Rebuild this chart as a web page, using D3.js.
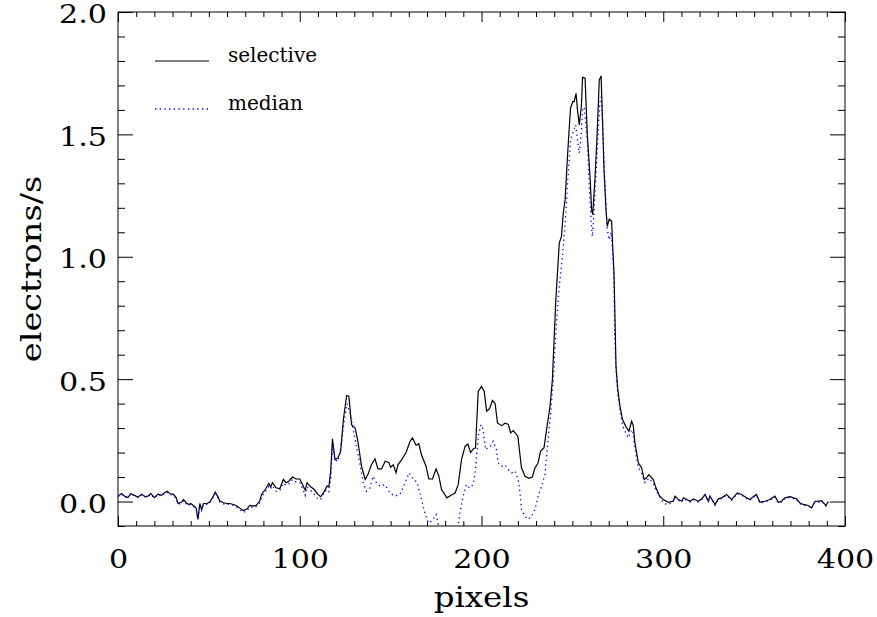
<!DOCTYPE html>
<html>
<head>
<meta charset="utf-8">
<script src="https://cdn.jsdelivr.net/npm/d3@7"></script>
<style>
  body { margin: 0; background: #fff; }
  svg { display: block; }
  text { font-family: "DejaVu Serif", serif; fill: #000; }
</style>
</head>
<body>
<div id="chart"></div>
<script>
// pixel positions along the slit
const selX = [0, 2, 4, 5.5, 7, 9, 11, 13, 15, 16.5, 18, 20, 22, 24, 25, 27, 29, 30.5, 32, 33, 35, 36, 37.5, 39, 40, 41.5, 43, 44, 45, 46, 47, 49, 50.5, 52, 53.5, 55, 56, 58, 60, 61.5, 63.5, 65, 67, 69, 71, 72.5, 74.5, 76, 78, 79, 81, 83, 84, 85, 87, 89, 91, 92.5, 94, 96, 98, 100, 101.5, 103, 104, 106, 108, 110, 111.5, 113, 115, 116, 117, 118, 119.4, 121, 122.5, 124, 125.8, 127, 128.5, 130.5, 132, 134, 136, 137.5, 139.5, 141.4, 143, 145, 147, 149, 150, 151.5, 153, 154, 156, 158.5, 160.7, 162, 164, 165.5, 167, 169.5, 171, 173, 175, 176.5, 178, 181, 183, 185.5, 187.2, 189, 191, 192.5, 194, 195.5, 196.7, 198.2, 200, 201.5, 202.8, 204.5, 206, 207.5, 208.8, 211, 213, 214.8, 216, 217.5, 220, 222, 224, 226, 228, 229.4, 231, 232.5, 234.4, 235.8, 237.7, 239, 240.9, 242.8, 244, 245, 246, 247.2, 248.3, 249, 250.2, 251, 252, 252.8, 253.8, 255, 255.6, 257, 258.2, 259.7, 260.6, 261.2, 262.5, 263.4, 264.3, 264.8, 265.8, 266.7, 267.4, 268.5, 269.2, 270.3, 271.6, 272.1, 272.9, 273.3, 274, 275, 276.2, 277.6, 279.4, 281.1, 282.6, 283.5, 284.4, 286.3, 288.1, 289.5, 290.5, 292.1, 293.5, 294.5, 296, 297.9, 300, 302.8, 305.5, 306.5, 308.3, 310.2, 311.1, 312.9, 314.8, 316.6, 319.3, 321.2, 323, 324.8, 325.7, 328.5, 330.3, 332.1, 334.9, 337.6, 340.7, 343.1, 345.8, 347.7, 349.5, 351.3, 353.2, 355.9, 358.7, 361.4, 363.3, 365.1, 366.9, 369.7, 373.3, 375.2, 377, 379.8, 381.6, 383.5, 385.3, 387.1, 389.5, 390.8];
// selective extraction, electrons/s
const selY = [0.022, 0.033, 0.020, 0.016, 0.033, 0.025, 0.018, 0.030, 0.020, 0.022, 0.033, 0.016, 0.030, 0.025, 0.033, 0.042, 0.030, 0.030, 0.016, -0.008, -0.002, 0.008, -0.005, -0.012, -0.008, -0.016, -0.027, -0.073, -0.008, -0.033, -0.008, -0.008, -0.002, 0.016, 0.038, 0.019, 0.002, -0.005, -0.008, -0.008, -0.012, -0.016, -0.027, -0.037, -0.030, -0.016, -0.019, -0.016, 0.002, 0.029, 0.049, 0.074, 0.060, 0.077, 0.056, 0.052, 0.090, 0.077, 0.083, 0.100, 0.092, 0.092, 0.070, 0.046, 0.077, 0.060, 0.049, 0.029, 0.020, 0.035, 0.063, 0.060, 0.120, 0.256, 0.171, 0.178, 0.205, 0.335, 0.433, 0.430, 0.314, 0.300, 0.246, 0.144, 0.090, 0.110, 0.151, 0.175, 0.133, 0.133, 0.165, 0.160, 0.140, 0.150, 0.117, 0.150, 0.170, 0.200, 0.246, 0.260, 0.230, 0.236, 0.190, 0.144, 0.092, 0.092, 0.133, 0.105, 0.049, 0.015, 0.025, 0.035, 0.070, 0.171, 0.226, 0.235, 0.200, 0.215, 0.220, 0.450, 0.470, 0.450, 0.369, 0.380, 0.413, 0.400, 0.321, 0.310, 0.320, 0.315, 0.280, 0.290, 0.267, 0.137, 0.103, 0.095, 0.100, 0.137, 0.155, 0.205, 0.220, 0.294, 0.389, 0.498, 0.824, 1.056, 1.083, 1.180, 1.233, 1.396, 1.530, 1.607, 1.634, 1.634, 1.668, 1.600, 1.539, 1.620, 1.733, 1.730, 1.500, 1.328, 1.190, 1.172, 1.328, 1.464, 1.627, 1.722, 1.739, 1.530, 1.355, 1.192, 1.124, 1.154, 1.145, 1.056, 0.933, 0.800, 0.552, 0.457, 0.389, 0.335, 0.307, 0.287, 0.328, 0.310, 0.240, 0.158, 0.137, 0.090, 0.095, 0.110, 0.098, 0.090, 0.056, 0.024, 0.008, -0.003, 0.001, 0.022, 0.008, 0.001, 0.015, 0.008, 0.001, 0.011, 0.001, 0.011, 0.029, 0.001, 0.022, -0.012, 0.011, 0.015, 0.029, 0.008, 0.035, 0.029, 0.015, 0.008, 0.020, 0.029, -0.003, 0.001, 0.008, 0.022, -0.003, 0.001, 0.015, 0.020, 0.011, -0.006, -0.012, -0.016, -0.026, 0.001, 0.001, 0.004, -0.016, 0.000];

const medX = [0, 2, 4, 5.5, 7, 9, 11, 13, 15, 16.5, 18, 20, 22, 24, 25, 27, 29, 30.5, 32, 33, 35, 36, 37.5, 39, 40, 41.5, 43, 44, 45, 46, 47, 49, 50.5, 52, 53.5, 55, 56, 58, 60, 61.5, 63.5, 65, 67, 69, 71, 72.5, 74.5, 76, 78, 79, 81, 83, 84, 85, 87, 89, 91, 92.5, 94, 96, 98, 100, 101.5, 103, 104, 106, 108, 110, 111.5, 113, 114.8, 116, 117, 118.1, 119.4, 121.2, 123, 124.3, 126, 127.6, 129.4, 131.2, 133, 134.9, 136.7, 138.5, 140.4, 142.3, 144.2, 146.9, 149.6, 152.4, 155.2, 157.9, 160.2, 162.4, 164.5, 167, 168.8, 170.7, 172.8, 175, 176.1, 177.5, 180, 183, 185.5, 187.2, 188.1, 189.9, 191.7, 193.5, 195.4, 196.7, 198.2, 199.7, 200.9, 202.2, 203.5, 205, 206.4, 208, 209.2, 211.1, 212.9, 214.8, 216.6, 218.4, 220.2, 221.2, 222, 223.9, 225.7, 227.5, 229.4, 231.2, 233, 234.9, 236.3, 238.1, 239.5, 241, 242.6, 244, 245.3, 246.4, 247.2, 248.3, 249, 250.5, 251.8, 252.8, 253.8, 254.4, 255, 255.6, 256.5, 257.4, 258.2, 259, 259.7, 260.4, 261, 261.9, 262.6, 263.4, 264.3, 265.2, 265.9, 266.3, 267, 267.7, 268.5, 269.2, 270.3, 271.4, 272.1, 272.9, 273.3, 274, 275, 276.2, 277.6, 279.4, 280.8, 282.6, 283.5, 284.4, 286.3, 288.1, 290, 291, 292.1, 294.5, 296, 298.2, 300, 301.8, 303, 305.5, 306.5, 308.3, 310.2, 311.1, 312.9, 314.8, 316.6, 319.3, 321.2, 323, 324.8, 325.7, 328.5, 330.3, 332.1, 334.9, 337.6, 340.7, 343.1, 345.8, 347.7, 349.5, 351.3, 353.2, 355.9, 358.7, 361.4, 363.3, 365.1, 366.9, 369.7, 373.3, 375.2, 377, 379.8, 381.6, 383.5, 385.3, 387.1, 389.5, 390.8];
// median extraction, electrons/s
const medY = [0.020, 0.030, 0.018, 0.015, 0.030, 0.024, 0.016, 0.028, 0.018, 0.020, 0.030, 0.014, 0.028, 0.022, 0.030, 0.038, 0.028, 0.027, 0.012, -0.012, -0.006, 0.004, -0.010, -0.016, -0.012, -0.020, -0.030, -0.070, -0.012, -0.035, -0.012, -0.012, -0.005, 0.012, 0.032, 0.015, -0.002, -0.010, -0.012, -0.012, -0.016, -0.022, -0.033, -0.045, -0.038, -0.022, -0.024, -0.020, -0.005, 0.020, 0.040, 0.062, 0.052, 0.065, 0.042, 0.044, 0.075, 0.066, 0.072, 0.090, 0.080, 0.078, 0.055, 0.025, 0.060, 0.045, 0.030, 0.010, 0.008, 0.030, 0.049, 0.040, 0.090, 0.226, 0.170, 0.164, 0.240, 0.321, 0.400, 0.362, 0.294, 0.226, 0.158, 0.076, 0.042, 0.055, 0.103, 0.075, 0.062, 0.069, 0.035, 0.022, 0.030, 0.076, 0.117, 0.090, 0.080, 0.008, -0.046, -0.087, -0.080, -0.053, -0.090, -0.120, -0.140, -0.150, -0.120, -0.094, -0.046, 0.022, 0.069, 0.055, 0.069, 0.130, 0.267, 0.314, 0.294, 0.212, 0.220, 0.226, 0.246, 0.219, 0.158, 0.144, 0.150, 0.130, 0.117, 0.125, 0.090, 0.035, -0.033, -0.060, -0.073, -0.060, -0.033, 0.022, 0.062, 0.110, 0.226, 0.362, 0.498, 0.700, 0.865, 0.960, 1.069, 1.178, 1.287, 1.396, 1.478, 1.512, 1.539, 1.480, 1.424, 1.460, 1.518, 1.607, 1.610, 1.546, 1.478, 1.342, 1.233, 1.138, 1.083, 1.178, 1.287, 1.396, 1.530, 1.634, 1.654, 1.600, 1.478, 1.342, 1.205, 1.110, 1.069, 1.100, 1.029, 0.900, 0.680, 0.540, 0.440, 0.375, 0.310, 0.280, 0.260, 0.294, 0.280, 0.220, 0.140, 0.115, 0.077, 0.085, 0.095, 0.075, 0.045, 0.016, -0.004, -0.012, -0.012, 0.000, 0.018, 0.005, -0.002, 0.012, 0.005, -0.002, 0.008, -0.002, 0.008, 0.026, -0.002, 0.019, -0.015, 0.008, 0.012, 0.026, 0.005, 0.032, 0.026, 0.012, 0.005, 0.017, 0.026, -0.006, -0.002, 0.005, 0.019, -0.006, -0.002, 0.012, 0.017, 0.008, -0.009, -0.015, -0.019, -0.029, -0.002, -0.002, 0.001, -0.019, -0.003];

const xMajor = [0, 100, 200, 300, 400];
const yMajor = [0.0, 0.5, 1.0, 1.5, 2.0];
const legendNames = ['selective', 'median'];

const svgWidth = 877;
const svgHeight = 617;
const margin = { left: 118, right: 32, top: 12, bottom: 91 };
const width = svgWidth - margin.left - margin.right;
const height = svgHeight - margin.top - margin.bottom;

// the original lettering is wider than DejaVu, stretch it a little
const stretch = 1.16;

const svg = d3.select('#chart')
  .append('svg')
  .attr('width', svgWidth)
  .attr('height', svgHeight);

const g = svg.append('g')
  .attr('transform', `translate(${margin.left}, ${margin.top})`);

const x = d3.scaleLinear().domain([0, 400]).range([0, width]);
const y = d3.scaleLinear().domain([-0.1, 2.0]).range([height, 0]);

// clip curves to the plot box
g.append('clipPath').attr('id', 'clip')
  .append('rect').attr('width', width).attr('height', height);

const line = d3.line()
  .x((d) => x(d[0]))
  .y((d) => y(d[1]));

const selData = selX.map((v, i) => [v, selY[i]]);
const medData = medX.map((v, i) => [v, medY[i]]);

const curves = g.append('g').attr('clip-path', 'url(#clip)');

curves.append('path')
  .datum(selData)
  .attr('fill', 'none')
  .attr('stroke', '#000')
  .attr('stroke-width', 1.2)
  .attr('d', line);

curves.append('path')
  .datum(medData)
  .attr('fill', 'none')
  .attr('stroke', '#0000ff')
  .attr('stroke-width', 1.3)
  .attr('stroke-dasharray', '1.3,3.4')
  .attr('d', line);

// minor ticks, IDL style on all four sides
const xMinor = d3.range(0, 401, 10).filter((v) => v % 100 !== 0);
const yMinor = d3.range(-1, 21).map((v) => v / 10).filter((v) => Math.round(v * 10) % 5 !== 0);

const tickStyle = (sel) => {
  sel.select('.domain').remove();
  sel.selectAll('line').attr('stroke', '#000').attr('stroke-width', 1);
};

g.append('g').attr('transform', `translate(0, ${height})`)
  .call(d3.axisBottom(x).tickValues(xMinor).tickSize(-5).tickFormat(''))
  .call(tickStyle);
g.append('g')
  .call(d3.axisTop(x).tickValues(xMinor).tickSize(-5).tickFormat(''))
  .call(tickStyle);
g.append('g')
  .call(d3.axisLeft(y).tickValues(yMinor).tickSize(-7).tickFormat(''))
  .call(tickStyle);
g.append('g').attr('transform', `translate(${width}, 0)`)
  .call(d3.axisRight(y).tickValues(yMinor).tickSize(-7).tickFormat(''))
  .call(tickStyle);

// major ticks + labels
const xAxis = g.append('g').attr('transform', `translate(0, ${height})`)
  .call(d3.axisBottom(x).tickValues(xMajor).tickSize(-10).tickFormat(d3.format('d')))
  .call(tickStyle);
xAxis.selectAll('text')
  .attr('y', 42)
  .attr('dy', null)
  .attr('font-size', 26)
  .attr('font-family', '"DejaVu Serif", serif')
  .attr('transform', `scale(${stretch}, 1)`);

g.append('g')
  .call(d3.axisTop(x).tickValues(xMajor).tickSize(-10).tickFormat(''))
  .call(tickStyle);

const yAxis = g.append('g')
  .call(d3.axisLeft(y).tickValues(yMajor).tickSize(-15).tickFormat(d3.format('.1f')))
  .call(tickStyle);
yAxis.selectAll('text')
  .attr('x', -11 / stretch)
  .attr('dy', '0.42em')
  .attr('font-size', 26)
  .attr('font-family', '"DejaVu Serif", serif')
  .attr('transform', `scale(${stretch}, 1)`);

g.append('g').attr('transform', `translate(${width}, 0)`)
  .call(d3.axisRight(y).tickValues(yMajor).tickSize(-15).tickFormat(''))
  .call(tickStyle);

// plot frame
g.append('rect')
  .attr('width', width)
  .attr('height', height)
  .attr('fill', 'none')
  .attr('stroke', '#000')
  .attr('stroke-width', 1);

// axis titles
svg.append('text')
  .attr('transform', `translate(${margin.left + width / 2}, 607) scale(${stretch}, 1)`)
  .attr('text-anchor', 'middle')
  .attr('font-size', 28)
  .text('pixels');

svg.append('text')
  .attr('transform', `translate(41, ${margin.top + height / 2}) rotate(-90) scale(${stretch + 0.04}, 1)`)
  .attr('text-anchor', 'middle')
  .attr('font-size', 28)
  .text('electrons/s');

// legend
const legend = svg.append('g').attr('class', 'legend');
const legendRows = legend.selectAll('g')
  .data(legendNames)
  .enter()
  .append('g')
  .attr('transform', (d, i) => `translate(155, ${61 + i * 48})`);

legendRows.append('line')
  .attr('x1', 0)
  .attr('x2', 54)
  .attr('stroke', (d, i) => i === 0 ? '#000' : '#0000ff')
  .attr('stroke-width', (d, i) => i === 0 ? 1.2 : 1.3)
  .attr('stroke-dasharray', (d, i) => i === 0 ? null : '1.3,3.4');

legendRows.append('text')
  .attr('x', 73)
  .attr('y', 1)
  .attr('font-size', 20)
  .text((d) => d);
</script>
</body>
</html>
